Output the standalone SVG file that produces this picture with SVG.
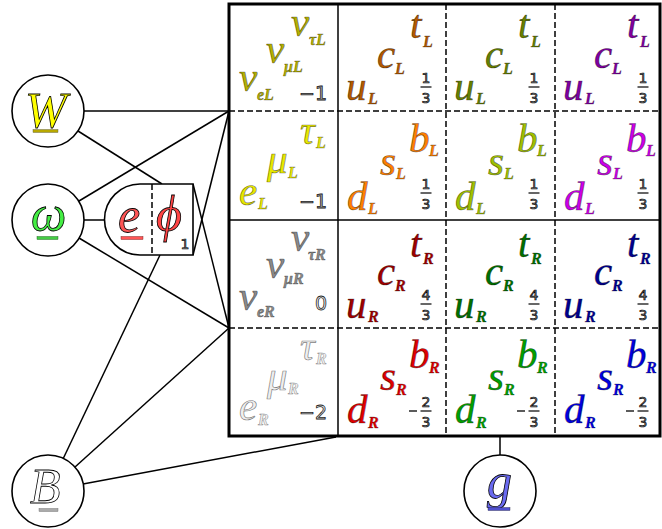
<svg xmlns="http://www.w3.org/2000/svg" width="662" height="529" viewBox="0 0 662 529">
<style>
.bg{fill:#fff}
.ln{stroke:#000;stroke-width:1.5;fill:none}
.ds{stroke:#000;stroke-width:1.5;fill:none;stroke-dasharray:6,3}
.nd{fill:#fff;stroke:#000;stroke-width:1.6}
.m{font-family:"Liberation Serif","DejaVu Serif",serif;font-style:italic;font-size:41px;stroke:#000;stroke-opacity:.5;stroke-width:.7}
.s{font-family:"Liberation Serif","DejaVu Serif",serif;font-style:italic;font-weight:bold;font-size:16px;stroke:#000;stroke-opacity:.5;stroke-width:.5}
.q{font-family:"DejaVu Sans","Liberation Sans",sans-serif;font-size:19px;stroke:#222;stroke-width:.8;text-anchor:end}
.f{font-family:"DejaVu Sans","Liberation Sans",sans-serif;font-size:14px;fill:#777;stroke:#000;stroke-width:.6;text-anchor:middle}
.big{font-family:"Liberation Serif","DejaVu Serif",serif;font-style:italic;font-size:50px;stroke:#000;stroke-width:.8}
</style>
<defs>
<g id="f13"><text class="f" x="0" y="0">1</text><line x1="-5.5" y1="4" x2="5.5" y2="4" stroke="#000" stroke-width="1.2"/><text class="f" x="0" y="20">3</text></g>
<g id="f43"><text class="f" x="0" y="0">4</text><line x1="-5.5" y1="4" x2="5.5" y2="4" stroke="#000" stroke-width="1.2"/><text class="f" x="0" y="20">3</text></g>
<g id="f23"><text class="f" x="0" y="0">2</text><line x1="-5.5" y1="4" x2="5.5" y2="4" stroke="#000" stroke-width="1.2"/><text class="f" x="0" y="20">3</text><line x1="-17" y1="4" x2="-9" y2="4" stroke="#333" stroke-width="1.6"/></g>
</defs>
<rect class="bg" x="0" y="0" width="662" height="529"/>

<g id="connectors">
<line class="ln" x1="84" y1="111" x2="229" y2="111"/>
<line class="ln" x1="78" y1="131" x2="162" y2="184"/>
<line class="ln" x1="79" y1="201" x2="229" y2="111"/>
<line class="ln" x1="84" y1="220" x2="105" y2="220"/>
<line class="ln" x1="79" y1="238" x2="229" y2="328"/>
<line class="ln" x1="193" y1="184" x2="229" y2="328"/>
<line class="ln" x1="193" y1="255" x2="229" y2="111"/>
<line class="ln" x1="160" y1="255" x2="63" y2="459"/>
<line class="ln" x1="75" y1="467" x2="229" y2="328"/>
<line class="ln" x1="83" y1="484" x2="336" y2="437"/>
<line class="ln" x1="500" y1="436" x2="500" y2="455"/>
</g>

<g id="grid">
<line class="ds" x1="229" y1="111" x2="660" y2="111"/>
<line class="ds" x1="229" y1="328" x2="660" y2="328"/>
<line class="ln" x1="229" y1="220" x2="660" y2="220"/>
<line class="ln" x1="338" y1="4" x2="338" y2="436"/>
<line class="ds" x1="446" y1="4" x2="446" y2="436"/>
<line class="ds" x1="555" y1="4" x2="555" y2="436"/>
<rect x="229" y="4" width="431" height="432" fill="none" stroke="#000" stroke-width="3"/>
</g>

<g id="cell-nuL" transform="translate(229,4)" fill="#b4b000">
<text class="m" x="62" y="32">ν</text><text class="s" x="80" y="41">τL</text>
<text class="m" x="37" y="59">ν</text><text class="s" x="55" y="68">μL</text>
<text class="m" x="10" y="87">ν</text><text class="s" x="28" y="96">eL</text>
<text class="q" x="98" y="96" fill="#aaa">−1</text>
</g>
<g id="cell-eL" transform="translate(229,111)" fill="#e8e800">
<text class="m" x="71" y="33">τ</text><text class="s" x="87" y="37">L</text>
<text class="m" x="38" y="62">μ</text><text class="s" x="59" y="67">L</text>
<text class="m" x="10" y="94">e</text><text class="s" x="29" y="98">L</text>
<text class="q" x="98" y="97" fill="#aaa">−1</text>
</g>
<g id="cell-nuR" transform="translate(229,220)" fill="#8a8a8a">
<text class="m" x="62" y="31">ν</text><text class="s" x="79" y="40">τR</text>
<text class="m" x="37" y="58">ν</text><text class="s" x="55" y="64">μR</text>
<text class="m" x="10" y="90">ν</text><text class="s" x="28" y="97">eR</text>
<text class="q" x="98" y="90" fill="#fff">0</text>
</g>
<g id="cell-eR" transform="translate(229,328)" fill="#eeeeee">
<text class="m" x="71" y="32">τ</text><text class="s" x="87" y="36">R</text>
<text class="m" x="38" y="62">μ</text><text class="s" x="59" y="66">R</text>
<text class="m" x="10" y="92">e</text><text class="s" x="29" y="97">R</text>
<text class="q" x="98" y="91" fill="#eee">−2</text>
</g>

<g id="cell-uL1" transform="translate(338,4)" fill="#b35900">
<text class="m" x="72" y="34">t</text><text class="s" x="85" y="43">L</text>
<text class="m" x="39" y="64">c</text><text class="s" x="57" y="70">L</text>
<text class="m" x="8" y="96">u</text><text class="s" x="30" y="100">L</text>
<use href="#f13" x="88" y="79"/>
</g>
<g id="cell-uL2" transform="translate(446,4)" fill="#668000">
<text class="m" x="72" y="34">t</text><text class="s" x="85" y="43">L</text>
<text class="m" x="39" y="64">c</text><text class="s" x="57" y="70">L</text>
<text class="m" x="8" y="96">u</text><text class="s" x="30" y="100">L</text>
<use href="#f13" x="88" y="79"/>
</g>
<g id="cell-uL3" transform="translate(555,4)" fill="#8000a0">
<text class="m" x="72" y="34">t</text><text class="s" x="85" y="43">L</text>
<text class="m" x="39" y="64">c</text><text class="s" x="57" y="70">L</text>
<text class="m" x="8" y="96">u</text><text class="s" x="30" y="100">L</text>
<use href="#f13" x="88" y="79"/>
</g>
<g id="cell-dL1" transform="translate(338,111)" fill="#ff8000">
<text class="m" x="71" y="41">b</text><text class="s" x="91" y="45">L</text>
<text class="m" x="42" y="64">s</text><text class="s" x="58" y="68">L</text>
<text class="m" x="9" y="99">d</text><text class="s" x="30" y="103">L</text>
<use href="#f13" x="88" y="78"/>
</g>
<g id="cell-dL2" transform="translate(446,111)" fill="#a0c000">
<text class="m" x="71" y="41">b</text><text class="s" x="91" y="45">L</text>
<text class="m" x="42" y="64">s</text><text class="s" x="58" y="68">L</text>
<text class="m" x="9" y="99">d</text><text class="s" x="30" y="103">L</text>
<use href="#f13" x="88" y="78"/>
</g>
<g id="cell-dL3" transform="translate(555,111)" fill="#cc00e8">
<text class="m" x="71" y="41">b</text><text class="s" x="91" y="45">L</text>
<text class="m" x="42" y="64">s</text><text class="s" x="58" y="68">L</text>
<text class="m" x="9" y="99">d</text><text class="s" x="30" y="103">L</text>
<use href="#f13" x="88" y="78"/>
</g>
<g id="cell-uR1" transform="translate(338,220)" fill="#a00000">
<text class="m" x="72" y="37">t</text><text class="s" x="85" y="44">R</text>
<text class="m" x="39" y="65">c</text><text class="s" x="57" y="71">R</text>
<text class="m" x="8" y="98">u</text><text class="s" x="30" y="102">R</text>
<use href="#f43" x="88" y="80"/>
</g>
<g id="cell-uR2" transform="translate(446,220)" fill="#007000">
<text class="m" x="72" y="37">t</text><text class="s" x="85" y="44">R</text>
<text class="m" x="39" y="65">c</text><text class="s" x="57" y="71">R</text>
<text class="m" x="8" y="98">u</text><text class="s" x="30" y="102">R</text>
<use href="#f43" x="88" y="80"/>
</g>
<g id="cell-uR3" transform="translate(555,220)" fill="#000090">
<text class="m" x="72" y="37">t</text><text class="s" x="85" y="44">R</text>
<text class="m" x="39" y="65">c</text><text class="s" x="57" y="71">R</text>
<text class="m" x="8" y="98">u</text><text class="s" x="30" y="102">R</text>
<use href="#f43" x="88" y="80"/>
</g>
<g id="cell-dR1" transform="translate(338,328)" fill="#e00000">
<text class="m" x="71" y="40">b</text><text class="s" x="91" y="45">R</text>
<text class="m" x="42" y="62">s</text><text class="s" x="58" y="67">R</text>
<text class="m" x="9" y="95">d</text><text class="s" x="30" y="100">R</text>
<use href="#f23" x="88" y="79"/>
</g>
<g id="cell-dR2" transform="translate(446,328)" fill="#00a000">
<text class="m" x="71" y="40">b</text><text class="s" x="91" y="45">R</text>
<text class="m" x="42" y="62">s</text><text class="s" x="58" y="67">R</text>
<text class="m" x="9" y="95">d</text><text class="s" x="30" y="100">R</text>
<use href="#f23" x="88" y="79"/>
</g>
<g id="cell-dR3" transform="translate(555,328)" fill="#0000e0">
<text class="m" x="71" y="40">b</text><text class="s" x="91" y="45">R</text>
<text class="m" x="42" y="62">s</text><text class="s" x="58" y="67">R</text>
<text class="m" x="9" y="95">d</text><text class="s" x="30" y="100">R</text>
<use href="#f23" x="88" y="79"/>
</g>

<g id="W">
<circle class="nd" cx="48" cy="111" r="36"/>
<text class="big" x="25" y="127" fill="#ffff00" font-size="53">W</text>
<rect x="33" y="129.5" width="25" height="3" fill="#b8a800" stroke="#554" stroke-width=".4"/>
</g>
<g id="omega">
<circle class="nd" cx="48" cy="220" r="36"/>
<text class="big" x="31" y="231" fill="#44ee44" stroke-width=".6" font-size="52">ω</text>
<rect x="37" y="236.5" width="21" height="3" fill="#44cc44" stroke="#151" stroke-width=".4"/>
</g>
<g id="e-phi">
<path class="nd" d="M140,184 H193 V255 H140 A35.5,35.5 0 0 1 140,184 Z"/>
<line class="ds" x1="152" y1="184" x2="152" y2="255" stroke-dasharray="5,3"/>
<text class="big" x="118" y="232" fill="#ff5555" stroke-width=".6" font-size="52">e</text>
<rect x="121" y="236.5" width="22" height="3" fill="#ff5555" stroke="#611" stroke-width=".4"/>
<text class="big" x="156" y="231" fill="#ff4444" stroke-width=".6" font-size="46">ϕ</text>
<text class="f" x="185" y="249" fill="#666">1</text>
</g>
<g id="B">
<circle class="nd" cx="48" cy="491" r="36"/>
<text class="big" x="30" y="503" fill="#fff" stroke="#555" font-size="46">B</text>
<rect x="39" y="508.5" width="19" height="3" fill="#aaa" stroke="#666" stroke-width=".4"/>
</g>
<g id="g">
<circle class="nd" cx="500" cy="491" r="36"/>
<text class="big" x="487" y="498" fill="#6a6af0" stroke-width=".6">g</text>
<rect x="488" y="507.5" width="22" height="3" fill="#5050d0" stroke="#224" stroke-width=".4"/>
</g>
</svg>
